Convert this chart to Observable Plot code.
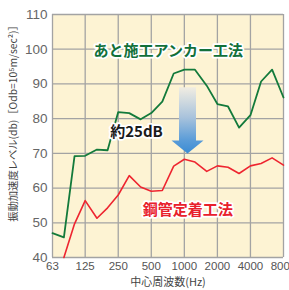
<!DOCTYPE html>
<html><head><meta charset="utf-8">
<script src="https://cdn.jsdelivr.net/npm/d3@7"></script>
<script src="https://cdn.jsdelivr.net/npm/@observablehq/plot@0.6"></script>
<style>html,body{margin:0;padding:0;background:#fff} svg{display:block}</style>
</head><body><div id="chart"></div>
<script>
// 1/3-octave centre frequencies (Hz)
const freqs = [63, 80, 100, 125, 160, 200, 250, 315, 400, 500, 630, 800, 1000, 1250, 1600, 2000, 2500, 3150, 4000, 5000, 6300, 8000];
// あと施工アンカー工法 (dB)
const anchorLevels = [47.0, 45.8, 69.2, 69.3, 71.1, 70.9, 81.9, 81.6, 79.8, 81.6, 84.9, 93.0, 94.1, 94.1, 89.5, 84.2, 83.5, 77.4, 81.0, 90.7, 94.1, 86.1];
// 鋼管定着工法 (dB)
const steelLevels = [null, 40.0, 49.7, 56.4, 51.3, 54.3, 58.0, 63.6, 60.3, 59.1, 59.3, 66.3, 68.3, 67.5, 64.8, 66.4, 66.0, 64.2, 66.4, 67.1, 68.7, 66.6];
const xTicks = [63, 125, 250, 500, 1000, 2000, 4000, 8000];
const yTicks = [40, 50, 60, 70, 80, 90, 100, 110];
const labels = [
  {f: 713, v: 99.3, text: "あと施工アンカー工法", color: "#12703a"},
  {f: 367, v: 76.1, text: "約25dB", color: "#1a1a1a"},
  {f: 1077, v: 53.5, text: "鋼管定着工法", color: "#e8202c"}
];
const arrowSpec = {f: 1080, from: 88.9, to: 69.8};
const yTitle = "振動加速度レベル(db)［Odb=10⁵m/sec²)］";
const xTitle = "中心周波数(Hz)";

const anchorData = freqs.map((f, i) => ({f, v: anchorLevels[i]}));
const steelData = freqs.map((f, i) => ({f, v: steelLevels[i]})).filter(d => d.v != null);

function arrowMark(index, scales, values, dimensions) {
  const x = scales.x(arrowSpec.f);
  const yTop = scales.y(arrowSpec.from);
  const yTip = scales.y(arrowSpec.to);
  const shaftW = 8.5, headW = 16, headL = 13;
  const g = d3.create("svg:g");
  const defs = g.append("defs");
  const grad = defs.append("linearGradient").attr("id", "arrowGrad")
    .attr("gradientUnits", "userSpaceOnUse")
    .attr("x1", 0).attr("x2", 0).attr("y1", yTop).attr("y2", yTip);
  grad.append("stop").attr("offset", 0).attr("stop-color", "#f1ede2");
  grad.append("stop").attr("offset", 0.45).attr("stop-color", "#a9c3dc");
  grad.append("stop").attr("offset", 0.8).attr("stop-color", "#5a9cd8");
  grad.append("stop").attr("offset", 1).attr("stop-color", "#3a8bd4");
  const yh = yTip - headL;
  const path = `M${x - shaftW},${yTop} L${x + shaftW},${yTop} L${x + shaftW},${yh} L${x + headW},${yh} L${x},${yTip} L${x - headW},${yh} L${x - shaftW},${yh} Z`;
  g.append("path").attr("d", path).attr("fill", "url(#arrowGrad)");
  return g.node();
}

const fontLatin = "'Liberation Sans', Arial, sans-serif";
const fontCJK = "'Noto Sans CJK JP', 'Noto Sans CJK SC', sans-serif";

const chart = Plot.plot({
  width: 289, height: 290,
  marginLeft: 52, marginRight: 6, marginTop: 14, marginBottom: 33,
  style: {background: "#fff", fontFamily: fontLatin, overflow: "hidden"},
  x: {type: "log", domain: [63, 8000], label: null, axis: null},
  y: {domain: [40, 110], label: null},
  marks: [
    Plot.frame({fill: "#fdf3d3", stroke: null}),
    Plot.ruleX(xTicks, {stroke: "#a3a3a3", strokeWidth: 1.3}),
    Plot.ruleY(yTicks, {stroke: "#a3a3a3", strokeWidth: 1.3}),
    Plot.line(anchorData, {x: "f", y: "v", stroke: "#137a3b", strokeWidth: 1.8}),
    Plot.line(steelData, {x: "f", y: "v", stroke: "#ee2530", strokeWidth: 1.6}),
    arrowMark,
    Plot.text(labels, {x: "f", y: "v", text: "text", fill: "color", stroke: "white", strokeWidth: 3.5, paintOrder: "stroke", fontSize: 15, fontWeight: "bold", fontFamily: fontCJK}),
    Plot.text(xTicks, {x: d => d, text: d => String(d), frameAnchor: "bottom", dy: 12, fontSize: 11.5, fill: "#555", ariaLabel: "xticklabels"}),
    Plot.axisY({ticks: yTicks, tickSize: 0, tickPadding: 5, fontSize: 13.5, fill: "#666", label: null}),
    Plot.text([yTitle], {frameAnchor: "left", textAnchor: "middle", dx: -39, dy: -15, rotate: -90, fontSize: 10.3, fill: "#444", fontFamily: fontCJK}),
    Plot.text([xTitle], {frameAnchor: "bottom", dy: 28, fontSize: 11, fill: "#444", fontFamily: fontCJK})
  ]
});
d3.select(chart).selectAll("g[aria-label='xticklabels'] text").style("letter-spacing", "-1.3px");
document.getElementById("chart").appendChild(chart);
</script>
</body></html>
